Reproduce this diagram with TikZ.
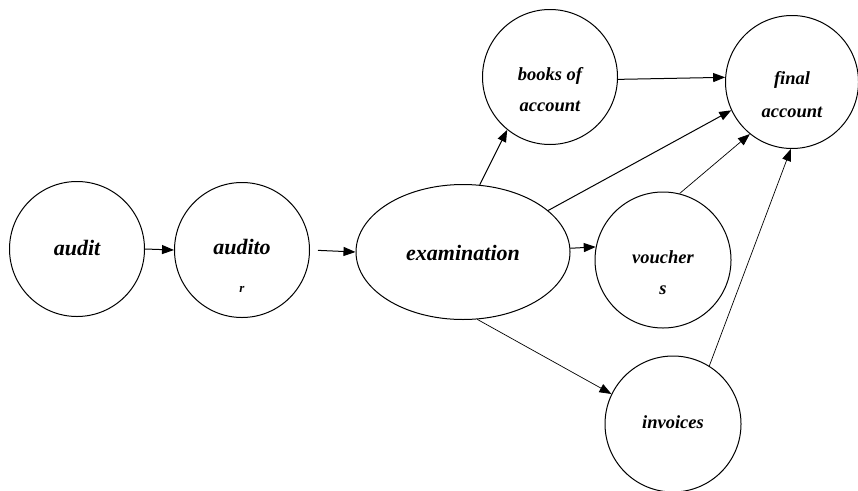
\documentclass[tikz,border=0pt]{standalone}
\usepackage{fontspec}
\setmainfont{Liberation Serif}[
  ItalicFont={Liberation Serif Italic},
  BoldFont={Liberation Serif Bold},
  BoldItalicFont={Liberation Serif Bold Italic}]
\usetikzlibrary{shapes.geometric,arrows.meta}
\begin{document}
\begin{tikzpicture}[x=1pt,y=-1pt,
  bubble/.style={draw,circle,line width=1pt,inner sep=0pt},
  oval/.style={draw,ellipse,line width=1pt,inner sep=0pt,minimum width=214pt,minimum height=135pt},
  big/.style={font=\fontsize{22}{22}\selectfont\bfseries\itshape,inner sep=0pt},
  small/.style={font=\fontsize{18.5}{18.5}\selectfont\bfseries\itshape,inner sep=0pt},
  tiny/.style={font=\fontsize{13}{13}\selectfont\bfseries\itshape,inner sep=0pt},
  link/.style={-{Triangle[length=12pt,width=9pt]},line width=1pt},
  thin link/.style={link,line width=0.7pt}]
\useasboundingbox (0,0) rectangle (858,490);
\fill[white] (0,0) rectangle (858,490);

% shapes
\node[bubble,minimum size=135pt] (audit) at (77,249) {};
\node[bubble,minimum size=135pt] (auditor) at (242,250) {};
\node[oval] (exam) at (463,252) {};
\node[bubble,minimum size=135pt] (books) at (550,77) {};
\node[bubble,minimum size=133pt] (final) at (792,82) {};
\node[bubble,minimum size=136pt] (vouchers) at (663,260) {};
\node[bubble,minimum size=136pt] (invoices) at (673,424) {};

% labels
\node[big] (t-audit) at (77,248) {audit};
\node[big] (t-auditor1) at (242,247) {audito};
\node[tiny] (t-auditor2) at (242,289) {r};
\node[big] (t-exam) at (463,253) {examination};
\node[small] (t-books1) at (550,76) {books of};
\node[small] (t-books2) at (550,106) {account};
\node[small] (t-final1) at (792,80) {final};
\node[small] (t-final2) at (792,112) {account};
\node[small] (t-vouch1) at (663,257) {voucher};
\node[small] (t-vouch2) at (663,290) {s};
\node[small] (t-inv) at (673,422) {invoices};

% connectors
\draw[link] (audit.east) -- (auditor.west);
\draw[link,shorten <=8pt] (auditor.east) -- (exam.west);
\draw[link] (exam.76) -- (books.231);
\draw[link] (books.-2) -- (final.176);
\draw[link] (exam.26) -- (final.205);
\draw[link] (exam.2) -- (vouchers.169);
\draw[thin link] (vouchers.76) -- (final.231);
\draw[thin link] (exam.282) -- (invoices.154);
\draw[thin link] (invoices.58) -- (final.269);
\end{tikzpicture}
\end{document}
